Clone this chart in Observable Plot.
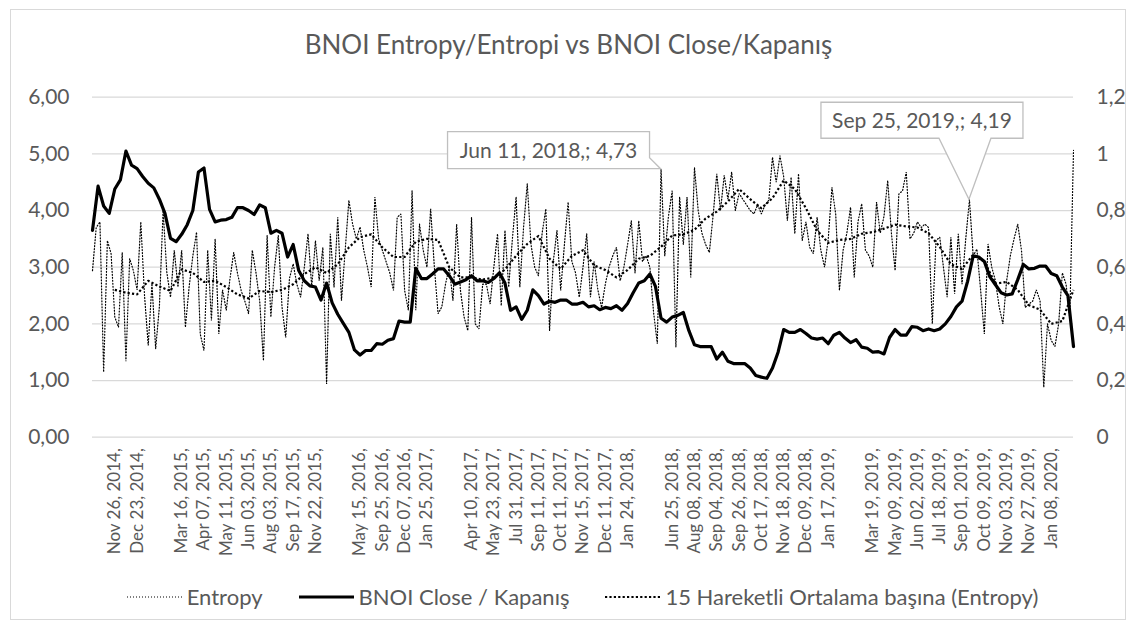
<!DOCTYPE html>
<html>
<head>
<meta charset="utf-8">
<script src="https://cdn.jsdelivr.net/npm/d3@7"></script>
<script src="https://cdn.jsdelivr.net/npm/@observablehq/plot@0.6"></script>
<style>
  html, body { margin: 0; padding: 0; background: #fff; }
  body { width: 1137px; height: 631px; position: relative; overflow: hidden; font-family: Lato, "Open Sans", sans-serif; }
  #frame { position: absolute; left: 10px; top: 9px; width: 1114px; height: 609px; border: 1px solid #d9d9d9; }
  #title { position: absolute; left: 0; top: 29px; width: 1137px; text-align: center; font-size: 26px; line-height: 30px; color: #595959; }
  #chart { position: absolute; left: 0; top: 60px; }
  #legend { position: absolute; left: 14px; top: 584px; width: 1137px; display: flex; justify-content: center; align-items: center; font-size: 22px; line-height: 26px; color: #595959; }
  #legend .item { display: flex; align-items: center; margin: 0 18px; }
  #legend svg { margin-right: 5px; }
</style>
</head>
<body>
<div id="frame"></div>
<div id="title"></div>
<div id="chart"></div>
<div id="legend"></div>
<script>
const titleText = "BNOI Entropy/Entropi vs BNOI Close/Kapanış";
const seriesNames = ["Entropy", "BNOI Close / Kapanış", "15 Hareketli Ortalama başına (Entropy)"];

// X tick labels, one every 6 observations (blank where the source shows none)
const tickLabels = [
  "Nov 26, 2014,", "Dec 23, 2014,", "", "Mar 16, 2015,", "Apr 07, 2015,", "May 11, 2015,",
  "Jun 03, 2015,", "Aug 03, 2015,", "Sep 17, 2015,", "Nov 22, 2015,", "", "May 15, 2016,",
  "Sep 25, 2016,", "Dec 07, 2016,", "Jan 25, 2017,", "", "Apr 10, 2017,", "May 23, 2017,",
  "Jul 31, 2017,", "Sep 11, 2017,", "Oct 11, 2017,", "Nov 15, 2017,", "Dec 11, 2017,", "Jan 24, 2018,",
  "", "Jun 25, 2018,", "Aug 08, 2018,", "Sep 04, 2018,", "Sep 26, 2018,", "Oct 17, 2018,",
  "Nov 18, 2018,", "Dec 09, 2018,", "Jan 17, 2019,", "", "Mar 19, 2019,", "May 09, 2019,",
  "Jun 02, 2019,", "Jul 18, 2019,", "Sep 01, 2019,", "Oct 09, 2019,", "Nov 03, 2019,",
  "Nov 27, 2019,", "Jan 08, 2020,"
];
const labelEvery = 6;

// Entropy (left axis), one value per observation
const entropy = [
  2.94, 3.7, 3.8, 1.15, 3.47, 3.24, 2.12, 1.94, 3.26, 1.34,
  3.15, 2.94, 2.6, 3.8, 2.5, 1.62, 2.71, 1.56, 2.3, 4.0,
  2.91, 2.47, 3.3, 2.65, 3.3, 1.94, 2.65, 3.2, 3.62, 1.82,
  1.53, 3.3, 2.06, 3.5, 1.82, 2.6, 2.24, 2.8, 3.26, 2.9,
  2.59, 2.4, 2.18, 3.3, 2.9, 2.4, 1.35, 3.56, 2.12, 3.0,
  3.56, 2.3, 1.76, 2.8, 3.06, 2.7, 2.47, 3.0, 3.59, 2.65,
  3.47, 2.76, 3.35, 0.94, 3.59, 2.65, 3.88, 2.41, 3.3, 4.18,
  3.76, 3.5, 3.71, 3.3, 3.0, 2.65, 4.24, 3.5, 3.3, 3.1,
  2.9, 2.59, 3.88, 3.94, 2.59, 2.24, 4.35, 2.24, 3.76, 3.3,
  3.0, 4.03, 3.0, 2.18, 2.3, 2.7, 3.0, 2.41, 3.76, 2.6,
  2.12, 1.88, 3.88, 2.0, 1.91, 2.7, 2.7, 2.35, 3.0, 3.59,
  2.32, 3.65, 2.65, 3.5, 4.24, 2.65, 3.7, 4.47, 3.4, 3.0,
  2.85, 3.6, 4.03, 1.88, 3.1, 3.65, 2.59, 3.4, 4.15, 3.1,
  2.9, 2.47, 3.0, 3.59, 2.47, 3.1, 2.6, 2.29, 2.7, 3.0,
  3.2, 3.35, 2.76, 3.0, 3.4, 3.82, 2.9, 3.82, 3.1, 3.2,
  3.0, 2.2, 1.65, 4.73, 3.2, 3.9, 4.35, 1.59, 4.24, 3.4,
  4.24, 2.82, 4.76, 4.0, 3.6, 3.4, 3.26, 3.9, 4.65, 4.0,
  4.62, 4.2, 4.68, 4.0, 4.3, 4.2, 4.1, 4.0, 3.94, 4.1,
  3.94, 4.1, 4.18, 4.94, 4.5, 4.97, 4.6, 3.82, 4.59, 3.59,
  4.65, 3.47, 3.8, 3.35, 3.24, 3.88, 3.3, 3.0, 3.5, 4.41,
  3.94, 2.59, 3.3, 3.6, 4.06, 2.82, 3.8, 4.12, 3.3, 3.2,
  3.0, 4.15, 3.6, 3.9, 4.53, 3.6, 2.94, 4.29, 4.35, 4.68,
  3.5, 3.6, 3.8, 3.7, 3.76, 3.7, 2.0, 3.47, 3.53, 3.0,
  2.47, 3.53, 2.53, 3.59, 2.7, 3.5, 4.19, 3.2, 3.32, 2.6,
  1.82, 3.41, 3.0, 2.76, 2.3, 2.0, 2.76, 3.2, 3.5, 3.76,
  3.3, 2.29, 2.35, 2.4, 2.6, 2.41, 0.88, 2.0, 1.71, 1.6,
  2.0, 2.9, 2.7, 2.1, 5.06
];

// BNOI close (right axis), read at an even spacing across the same span
const closePrice = [
  0.73, 0.886, 0.816, 0.79, 0.876, 0.908, 1.01, 0.96, 0.948, 0.92,
  0.896, 0.88, 0.84, 0.79, 0.702, 0.69, 0.716, 0.75, 0.8, 0.936,
  0.95, 0.804, 0.76, 0.766, 0.768, 0.776, 0.81, 0.81, 0.8, 0.786,
  0.82, 0.81, 0.72, 0.73, 0.72, 0.636, 0.68, 0.588, 0.552, 0.534,
  0.53, 0.484, 0.544, 0.474, 0.434, 0.402, 0.37, 0.308, 0.29, 0.306,
  0.306, 0.33, 0.328, 0.342, 0.348, 0.41, 0.406, 0.406, 0.596, 0.56,
  0.56, 0.576, 0.594, 0.594, 0.57, 0.54, 0.548, 0.556, 0.57, 0.552,
  0.552, 0.546, 0.56, 0.58, 0.544, 0.448, 0.46, 0.416, 0.448, 0.52,
  0.5, 0.47, 0.48, 0.476, 0.484, 0.484, 0.47, 0.47, 0.476, 0.46,
  0.464, 0.45, 0.458, 0.454, 0.464, 0.448, 0.472, 0.51, 0.544, 0.552,
  0.576, 0.532, 0.42, 0.406, 0.424, 0.43, 0.44, 0.376, 0.326, 0.32,
  0.32, 0.32, 0.276, 0.3, 0.268, 0.26, 0.26, 0.26, 0.244, 0.218,
  0.212, 0.208, 0.244, 0.3, 0.38, 0.37, 0.37, 0.38, 0.366, 0.35,
  0.346, 0.35, 0.33, 0.36, 0.37, 0.35, 0.334, 0.344, 0.318, 0.314,
  0.3, 0.302, 0.294, 0.352, 0.38, 0.36, 0.36, 0.39, 0.388, 0.376,
  0.382, 0.376, 0.382, 0.4, 0.426, 0.46, 0.48, 0.55, 0.64, 0.636,
  0.62, 0.566, 0.538, 0.51, 0.502, 0.506, 0.556, 0.61, 0.594, 0.596,
  0.604, 0.604, 0.578, 0.57, 0.53, 0.5, 0.32
];

// 15-period moving average of entropy (left axis), read at an even spacing
const movingAvg = [
  null, null, 2.6, 2.55, 2.52, 2.76, 2.66, 2.58, 2.96, 2.9,
  2.74, 2.76, 2.65, 2.52, 2.45, 2.58, 2.56, 2.6, 2.7, 2.88,
  3.0, 2.9, 3.05, 3.35, 3.53, 3.58, 3.35, 3.18, 3.18, 3.45,
  3.5, 3.48, 3.0, 2.82, 2.82, 2.78, 2.82, 2.96, 3.2, 3.41,
  3.55, 3.15, 2.97, 3.2, 3.3, 3.03, 2.95, 2.82, 2.95, 3.15,
  3.2, 3.36, 3.56, 3.58, 3.66, 3.86, 3.98, 4.16, 4.38, 4.2,
  4.04, 4.22, 4.53, 4.38, 4.04, 3.65, 3.43, 3.48, 3.5, 3.59,
  3.62, 3.68, 3.75, 3.72, 3.7, 3.6, 3.36, 3.05, 2.97, 3.22,
  3.1, 2.71, 2.74, 2.6, 2.33, 2.25, 2.0, 2.05, 2.6
];

// Data-label callouts on the entropy series
const calloutLabels = ["Jun 11, 2018,", "Sep 25, 2019,"];
const calloutIndex = [153, 236];

const leftTicks = [0, 1, 2, 3, 4, 5, 6];
const rightFactor = 5; // right axis (0–1,2) maps onto left axis (0–6)

const n = entropy.length;
const lastIdx = n - 1;
const entData = entropy.map((v, i) => ({x: i, y: v}));
const closeData = closePrice.map((v, j) => ({x: j * lastIdx / (closePrice.length - 1), y: v * rightFactor}));
const maData = movingAvg.map((v, k) => ({x: k * lastIdx / (movingAvg.length - 1), y: v})).filter(d => d.y != null);
const tickPositions = tickLabels.map((_, k) => (k + 1) * labelEvery);

const fmtLeft = d => d.toFixed(2).replace(".", ",");
const fmtRight = d => String(+(d / rightFactor).toFixed(1)).replace(".", ",");
const textColor = "#595959";

document.getElementById("title").textContent = titleText;

const plot = Plot.plot({
  width: 1137,
  height: 510,
  marginLeft: 92,
  marginRight: 64,
  marginTop: 36.7,
  marginBottom: 133.3,
  style: {fontFamily: "Lato, 'Open Sans', sans-serif", background: "transparent", overflow: "visible"},
  x: {domain: [0, lastIdx], label: null},
  y: {domain: [0, 6], label: null},
  marks: [
    Plot.gridY(leftTicks, {stroke: "#d9d9d9", strokeOpacity: 1, strokeWidth: 1.3}),
    Plot.axisY({ticks: leftTicks, anchor: "left", tickFormat: fmtLeft, tickSize: 0, tickPadding: 23, fontSize: 21, fill: textColor, label: null}),
    Plot.axisY({ticks: leftTicks, anchor: "right", tickFormat: fmtRight, tickSize: 0, tickPadding: 23, fontSize: 21, fill: textColor, label: null}),
    Plot.axisX({ticks: tickPositions, tickFormat: d => tickLabels[d / labelEvery - 1], tickRotate: -90, textAnchor: "end", lineAnchor: "middle", tickSize: 0, tickPadding: 11, fontSize: 17, fill: textColor, label: null}),
    Plot.line(entData, {x: "x", y: "y", stroke: "#000", strokeWidth: 1.2, strokeDasharray: "1 2", strokeLinejoin: "miter"}),
    Plot.line(maData, {x: "x", y: "y", stroke: "#000", strokeWidth: 2.2, strokeDasharray: "2.2 2.2", strokeLinecap: "butt"}),
    Plot.line(closeData, {x: "x", y: "y", stroke: "#000", strokeWidth: 3.2, strokeLinejoin: "round"})
  ]
});
document.getElementById("chart").appendChild(plot);

// Callouts
const X = plot.scale("x"), Y = plot.scale("y");
const svg = d3.select(plot);
const g = svg.append("g").attr("font-family", "Lato, 'Open Sans', sans-serif");
calloutLabels.forEach((lab, c) => {
  const idx = calloutIndex[c];
  const px = X.apply(idx), py = Y.apply(entropy[idx]);
  const text = `${lab}; ${fmtLeft(entropy[idx])}`;
  let path, tx, ty;
  if (c === 0) {
    const x0 = px - 213, x1 = px - 11, y0 = py - 37, y1 = py;
    path = `M${x0},${y0}H${x1}V${y1 - 11}L${px},${py}H${x0}Z`;
    tx = (x0 + x1) / 2; ty = (y0 + y1) / 2;
  } else {
    const x0 = px - 148, x1 = px + 54, y0 = py - 97, y1 = py - 61;
    path = `M${x0},${y0}H${x1}V${y1}H${px + 22}L${px},${py}L${px - 30},${y1}H${x0}Z`;
    tx = (x0 + x1) / 2; ty = (y0 + y1) / 2;
  }
  g.append("path").attr("d", path).attr("fill", "#fff").attr("stroke", "#bfbfbf").attr("stroke-width", 1.3);
  g.append("text").attr("x", tx).attr("y", ty).attr("dy", "0.35em").attr("text-anchor", "middle")
    .attr("font-size", 21).attr("fill", textColor).text(text);
});

// Legend
const legendStyles = [
  {w: 1.2, dash: "1 2"},
  {w: 3.2, dash: null},
  {w: 2.2, dash: "2.2 2.2"}
];
const legend = d3.select("#legend");
seriesNames.forEach((name, i) => {
  const item = legend.append("div").attr("class", "item");
  const s = item.append("svg").attr("width", 55).attr("height", 8);
  const ln = s.append("line").attr("x1", 0).attr("x2", 55).attr("y1", 4).attr("y2", 4)
    .attr("stroke", "#000").attr("stroke-width", legendStyles[i].w);
  if (legendStyles[i].dash) ln.attr("stroke-dasharray", legendStyles[i].dash);
  item.append("span").text(name);
});
</script>
</body>
</html>
